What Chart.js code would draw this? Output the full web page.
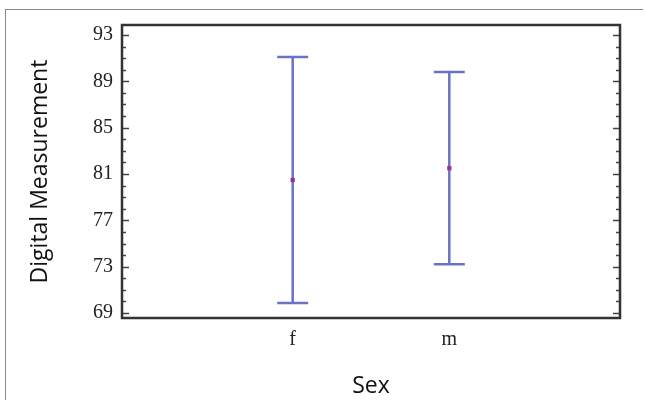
<!DOCTYPE html>
<html>
<head>
<meta charset="utf-8">
<script src="https://cdn.jsdelivr.net/npm/chart.js@4.4.1/dist/chart.umd.min.js"></script>
<style>
  html, body { margin: 0; padding: 0; background: #fff; }
</style>
</head>
<body>
<canvas id="chart" width="645" height="400"></canvas>
<script>
// data
const groups = ['f', 'm'];
const groupPos = [1, 2];
const means = [80.48, 81.5];
const lows = [69.86, 73.2];
const highs = [91.1, 89.8];
const yTicks = [69, 73, 77, 81, 85, 89, 93];

const barColor = '#6a72c6';

// error bars, inner tick marks, box and the outer page frame
const extras = {
  id: 'extras',
  beforeDraw(chart) {
    const ctx = chart.ctx;
    ctx.save();
    ctx.strokeStyle = '#8a8a8a';
    ctx.lineWidth = 1;
    ctx.beginPath();
    ctx.moveTo(5, 9.5);
    ctx.lineTo(643, 9.5);
    ctx.moveTo(5.5, 9.5);
    ctx.lineTo(5.5, 400);
    ctx.stroke();
    ctx.restore();
  },
  beforeDatasetsDraw(chart) {
    const { ctx, scales: { x, y } } = chart;
    ctx.save();
    ctx.strokeStyle = barColor;
    ctx.lineWidth = 2.5;
    for (let i = 0; i < groups.length; i++) {
      const px = x.getPixelForValue(groupPos[i]);
      const top = y.getPixelForValue(highs[i]);
      const bot = y.getPixelForValue(lows[i]);
      ctx.beginPath();
      ctx.moveTo(px, top);
      ctx.lineTo(px, bot);
      ctx.moveTo(px - 15.5, top);
      ctx.lineTo(px + 15.5, top);
      ctx.moveTo(px - 15.5, bot);
      ctx.lineTo(px + 15.5, bot);
      ctx.stroke();
    }
    ctx.restore();
  },
  afterDraw(chart) {
    const { ctx, chartArea: a, scales: { y } } = chart;
    ctx.save();
    ctx.strokeStyle = '#444';
    ctx.lineWidth = 1.5;
    ctx.beginPath();
    for (let v = 69; v <= 93; v++) {
      const py = Math.round(y.getPixelForValue(v)) + 0.5;
      const len = (v - 69) % 4 === 0 ? 7 : 4;
      ctx.moveTo(a.left, py);
      ctx.lineTo(a.left + len, py);
      ctx.moveTo(a.right, py);
      ctx.lineTo(a.right - len, py);
    }
    ctx.stroke();
    ctx.strokeStyle = '#333';
    ctx.lineWidth = 2.5;
    ctx.strokeRect(a.left, a.top, a.right - a.left, a.bottom - a.top);
    ctx.restore();
  }
};

new Chart(document.getElementById('chart'), {
  type: 'scatter',
  data: {
    datasets: [{
      data: groupPos.map((p, i) => ({ x: p, y: means[i] })),
      pointStyle: 'rect',
      pointRadius: 3,
      backgroundColor: '#9a2f96',
      borderColor: '#9a2f96',
      borderWidth: 0
    }]
  },
  options: {
    responsive: false,
    animation: false,
    layout: { padding: { top: 25, right: 25, left: 0, bottom: 0 } },
    plugins: {
      legend: { display: false },
      tooltip: { enabled: false }
    },
    scales: {
      x: {
        type: 'linear',
        min: -0.09,
        max: 3.09,
        afterBuildTicks: s => { s.ticks = groupPos.map(v => ({ value: v })); },
        afterFit: s => { s.height = 82; },
        grid: { display: false, drawTicks: false },
        border: { display: false },
        ticks: {
          padding: 10,
          color: '#222',
          font: { family: 'Liberation Serif', size: 20 },
          callback: v => groups[groupPos.indexOf(v)]
        },
        title: {
          display: true,
          text: 'Sex',
          color: '#111',
          font: { family: 'Open Sans', size: 23 },
          padding: { top: 1, bottom: 0 }
        }
      },
      y: {
        min: 68.57,
        max: 93.86,
        afterBuildTicks: s => { s.ticks = yTicks.map(v => ({ value: v })); },
        afterFit: s => { s.width = 122; },
        grid: { display: false, drawTicks: false },
        border: { display: false },
        ticks: {
          padding: 9,
          color: '#222',
          font: { family: 'Liberation Serif', size: 20 }
        },
        title: {
          display: true,
          text: 'Digital Measurement',
          color: '#111',
          font: { family: 'Open Sans', size: 23 },
          padding: { top: 27, bottom: 0 }
        }
      }
    }
  },
  plugins: [extras]
});
</script>
</body>
</html>
